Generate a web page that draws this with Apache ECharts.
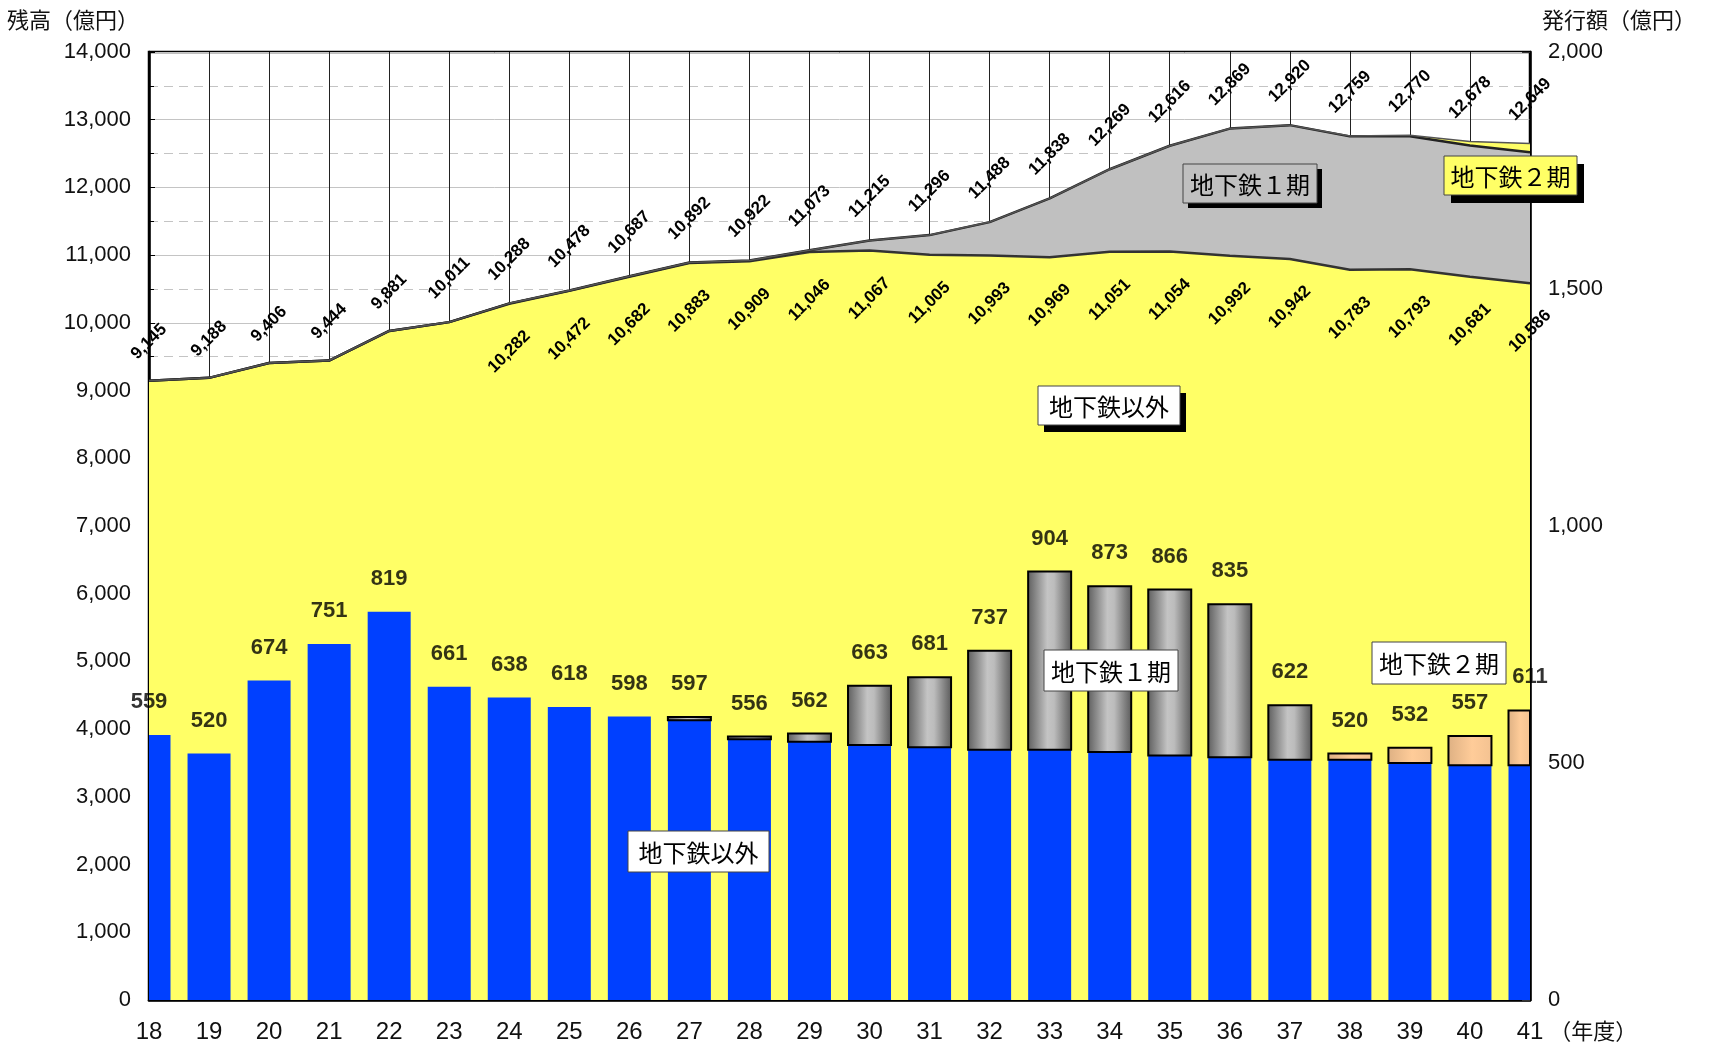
<!DOCTYPE html>
<html>
<head>
<meta charset="utf-8">
<script src="https://cdn.jsdelivr.net/npm/echarts@6/dist/echarts.min.js"></script>
<style>
  html, body { margin: 0; padding: 0; background: #fff; }
  #chart { width: 1711px; height: 1050px; }
</style>
</head>
<body>
<div id="chart"></div>
<script>
// 年度
const years = ['18','19','20','21','22','23','24','25','26','27','28','29',
               '30','31','32','33','34','35','36','37','38','39','40','41'];

// 残高（億円） — 左軸、積み上げ面
const balanceOther = [9145, 9188, 9406, 9444, 9881, 10011, 10282, 10472, 10682, 10883, 10909, 11046,
                      11067, 11005, 10993, 10969, 11051, 11054, 10992, 10942, 10783, 10793, 10681, 10586];
const balanceLine1 = [0, 0, 0, 0, 0, 0, 6, 6, 5, 9, 13, 27,
                      148, 291, 495, 869, 1218, 1562, 1877, 1978, 1971, 1962, 1937, 1933];
const balanceLine2 = [0, 0, 0, 0, 0, 0, 0, 0, 0, 0, 0, 0,
                      0, 0, 0, 0, 0, 0, 0, 0, 5, 15, 60, 130];

// 発行額（億円） — 右軸、積み上げ棒
const issueOther = [559, 520, 674, 751, 819, 661, 638, 618, 598, 590, 550, 545,
                    538, 533, 528, 528, 523, 516, 512, 507, 507, 500, 495, 495];
const issueLine1 = [null, null, null, null, null, null, null, null, null, 7, 6, 17,
                    125, 148, 209, 376, 350, 350, 323, 115, null, null, null, null];
const issueLine2 = [null, null, null, null, null, null, null, null, null, null, null, null,
                    null, null, null, null, null, null, null, null, 13, 32, 62, 116];

const fmt = v => Number(v).toLocaleString('en-US');
const balanceTotal = years.map((_, i) => balanceOther[i] + balanceLine1[i] + balanceLine2[i]);
const issueBase1 = issueOther.slice();
const issueBase2 = years.map((_, i) => issueOther[i] + (issueLine1[i] || 0));
const issueTotal = years.map((_, i) => issueBase2[i] + (issueLine2[i] || 0));

const NUM_FONT = '"Liberation Sans", Arial, sans-serif';
const JP_FONT = '"Noto Sans CJK JP", "Noto Sans", sans-serif';
const LINE_COLOR = '#333';
const BAR_WIDTH = 43;

const rotatedLabel = {
  show: true, rotate: 45, align: 'center', verticalAlign: 'middle',
  fontFamily: NUM_FONT, fontWeight: 'bold', fontSize: 17, color: '#000'
};

// 積み上げ棒（区分ごと）。プロット領域でクリップし、両端年度の棒は半分だけ描く
function barPart(name, values, bases, style) {
  return {
    type: 'custom', name: name, xAxisIndex: 0, yAxisIndex: 1, z: 5,
    data: values.map((v, i) => [i, bases[i], v == null ? NaN : bases[i] + v]),
    encode: { x: 0, y: [1, 2] },
    renderItem: function (params, api) {
      const lo = api.value(1), hi = api.value(2);
      if (isNaN(hi)) return null;
      const p0 = api.coord([api.value(0), lo]);
      const p1 = api.coord([api.value(0), hi]);
      const cs = params.coordSys;
      const shape = echarts.graphic.clipRectByRect(
        { x: p0[0] - BAR_WIDTH / 2, y: p1[1], width: BAR_WIDTH, height: p0[1] - p1[1] },
        { x: cs.x, y: cs.y, width: cs.width, height: cs.height });
      if (!shape) return null;
      return { type: 'rect', shape: shape, style: Object.assign({}, style) };
    }
  };
}

// 注記ボックス
function noteBox(x, y, w, h, text, bg, shadow) {
  const els = [];
  if (shadow) {
    els.push({ type: 'rect', z: 100, shape: { x: x + shadow[0], y: y + shadow[1], width: w, height: h },
               style: { fill: '#000' } });
  }
  els.push({ type: 'rect', z: 101, shape: { x: x, y: y, width: w, height: h },
             style: { fill: bg, stroke: '#444', lineWidth: 1 } });
  els.push({ type: 'text', z: 102, x: x + w / 2, y: y + h / 2 + 1,
             style: { text: text, font: '24px ' + JP_FONT, fill: '#000', align: 'center', verticalAlign: 'middle' } });
  return els;
}

const chart = echarts.init(document.getElementById('chart'), null, { renderer: 'canvas' });

const option = {
  animation: false,
  backgroundColor: '#fff',
  grid: { left: 149, right: 181, top: 52, bottom: 50, show: true, borderColor: '#000', borderWidth: 2.5,
          backgroundColor: 'transparent' },
  xAxis: {
    type: 'category', data: years, boundaryGap: false,
    name: '（年度）', nameLocation: 'end', nameGap: 10,
    nameTextStyle: { fontFamily: JP_FONT, fontSize: 22, color: '#111', align: 'left', verticalAlign: 'top',
                     padding: [20, 0, 0, 0] },
    axisLine: { show: true, lineStyle: { color: '#000', width: 2.5 } },
    axisTick: { show: true, inside: true, length: 5, interval: 0, lineStyle: { color: '#000' } },
    axisLabel: { interval: 0, margin: 20, fontFamily: NUM_FONT, fontSize: 24, color: '#111' },
    splitLine: { show: true, interval: 0, lineStyle: { color: '#222', width: 1 } }
  },
  yAxis: [
    {
      type: 'value', min: 0, max: 14000, interval: 1000, position: 'left',
      name: '残高（億円）', nameLocation: 'end', nameGap: 32,
      nameTextStyle: { fontFamily: JP_FONT, fontSize: 22, color: '#111', align: 'right', verticalAlign: 'middle',
                       padding: [0, 10, 0, 0] },
      axisLine: { show: true, lineStyle: { color: '#000', width: 2.5 } },
      axisTick: { show: true, inside: true, length: 6, lineStyle: { color: '#000' } },
      minorTick: { show: true, splitNumber: 2, length: 5, lineStyle: { color: '#000' } },
      axisLabel: { margin: 18, fontFamily: NUM_FONT, fontSize: 22, color: '#111', formatter: v => fmt(v) },
      splitLine: { show: true, lineStyle: { color: '#c4c4c4', width: 1 } },
      minorSplitLine: { show: true, lineStyle: { color: '#c4c4c4', width: 1, type: [9, 6] } }
    },
    {
      type: 'value', min: 0, max: 2000, interval: 500, position: 'right',
      name: '発行額（億円）', nameLocation: 'end', nameGap: 32,
      nameTextStyle: { fontFamily: JP_FONT, fontSize: 22, color: '#111', align: 'left', verticalAlign: 'middle',
                       padding: [0, 0, 0, 12] },
      axisLine: { show: true, lineStyle: { color: '#000', width: 2.5 } },
      axisTick: { show: true, inside: true, length: 8, lineStyle: { color: '#333' } },
      axisLabel: { margin: 18, fontFamily: NUM_FONT, fontSize: 22, color: '#111', formatter: v => fmt(v) },
      splitLine: { show: false }
    }
  ],
  series: [
    {
      name: '地下鉄以外（残高）', type: 'line', stack: 'balance', yAxisIndex: 0, z: 2,
      data: balanceOther,
      symbol: 'circle', symbolSize: 0, showAllSymbol: true,
      lineStyle: { color: LINE_COLOR, width: 2.5 },
      itemStyle: { color: LINE_COLOR },
      areaStyle: { color: '#FFFF66', opacity: 1 },
      label: Object.assign({}, rotatedLabel, {
        position: 'bottom', distance: 48,
        formatter: p => (balanceLine1[p.dataIndex] + balanceLine2[p.dataIndex] > 0) ? fmt(balanceOther[p.dataIndex]) : ''
      })
    },
    {
      name: '地下鉄1期（残高）', type: 'line', stack: 'balance', yAxisIndex: 0, z: 2,
      data: balanceLine1,
      symbol: 'none',
      lineStyle: { color: '#222', width: 2.5 },
      areaStyle: { color: '#C0C0C0', opacity: 1 }
    },
    {
      name: '地下鉄2期（残高）', type: 'line', stack: 'balance', yAxisIndex: 0, z: 2,
      data: balanceLine2.map((v, i) => ({ value: v, label: { distance: balanceTotal[i] >= 10000 ? 44 : 39 } })),
      symbol: 'circle', symbolSize: 0, showAllSymbol: true,
      lineStyle: { color: '#555', width: 1.5 },
      itemStyle: { color: '#555' },
      areaStyle: { color: '#FFFF66', opacity: 1 },
      label: Object.assign({}, rotatedLabel, {
        position: 'top', distance: 44,
        formatter: p => fmt(balanceTotal[p.dataIndex])
      })
    },
    barPart('地下鉄以外', issueOther, years.map(() => 0), { fill: '#0040FF' }),
    barPart('地下鉄1期', issueLine1, issueBase1, {
      fill: new echarts.graphic.LinearGradient(0, 0, 1, 0, [
        { offset: 0, color: '#5c5c5c' }, { offset: 0.45, color: '#c4c4c4' },
        { offset: 0.6, color: '#bcbcbc' }, { offset: 1, color: '#585858' } ]),
      stroke: '#000', lineWidth: 2
    }),
    barPart('地下鉄2期', issueLine2, issueBase2, {
      fill: new echarts.graphic.LinearGradient(0, 0, 1, 0, [
        { offset: 0, color: '#DDB083' }, { offset: 0.55, color: '#FFCC99' }, { offset: 1, color: '#F3C291' } ]),
      stroke: '#000', lineWidth: 2
    }),
    {
      name: '発行額計', type: 'scatter', yAxisIndex: 1, clip: false, silent: true,
      data: issueTotal, symbolSize: 0, z: 10,
      label: { show: true, position: 'top', distance: 22, fontFamily: NUM_FONT, fontWeight: 'bold',
               fontSize: 22, color: '#000', formatter: p => String(p.value) }
    }
  ],
  graphic: [].concat(
    noteBox(1183, 164, 134, 39, '地下鉄１期', '#C0C0C0', [5, 5]),
    noteBox(1444, 156, 133, 39, '地下鉄２期', '#FFFF66', [7, 8]),
    noteBox(1038, 386, 142, 39, '地下鉄以外', '#FFFFFF', [6, 7]),
    noteBox(1044, 650, 134, 41, '地下鉄１期', '#FFFFFF', null),
    noteBox(1372, 642, 134, 42, '地下鉄２期', '#FFFFFF', null),
    noteBox(628, 831, 141, 41, '地下鉄以外', '#FFFFFF', null)
  )
};

chart.setOption(option);
</script>
</body>
</html>
